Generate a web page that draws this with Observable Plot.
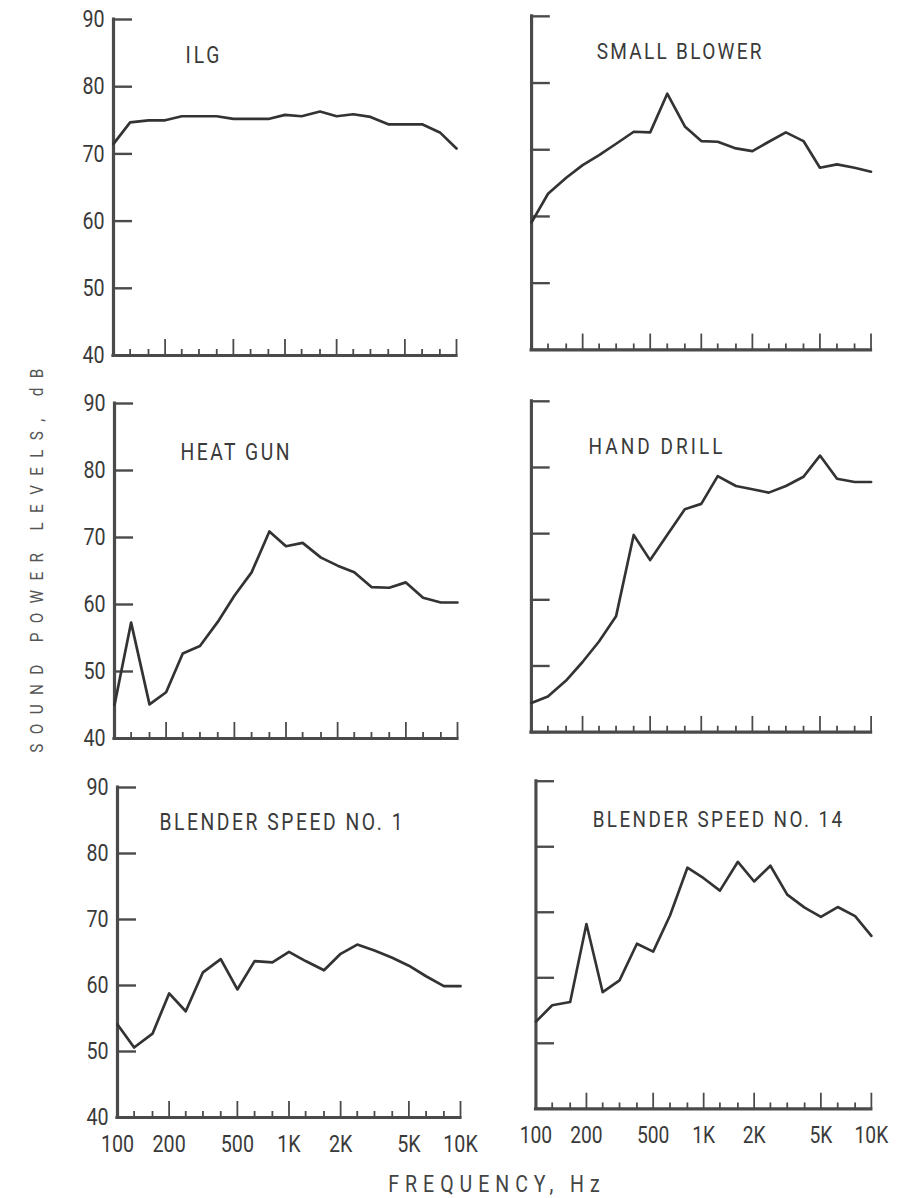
<!DOCTYPE html>
<html>
<head>
<meta charset="utf-8">
<script src="https://cdn.jsdelivr.net/npm/d3@7"></script>
<script src="https://cdn.jsdelivr.net/npm/@observablehq/plot@0.6"></script>
<style>
  html, body { margin: 0; padding: 0; background: #fff; }
  #chart { position: relative; width: 910px; height: 1198px; background: #fff; overflow: hidden; }
  .panel { position: absolute; }
  .lab { position: absolute; white-space: nowrap; color: #444; font-family: Roboto, 'Liberation Sans', sans-serif; }
</style>
</head>
<body>
<div id="chart"></div>
<script>
// ---- data ----
const freqs = [100,125,160,200,250,315,400,500,630,800,1000,1250,1600,2000,2500,3150,4000,5000,6300,8000,10000];
const ilg         = [71.5,74.7,75.0,75.0,75.6,75.6,75.6,75.2,75.2,75.2,75.8,75.6,76.3,75.6,75.9,75.5,74.4,74.4,74.4,73.2,70.8];
const smallBlower = [59.1,63.4,65.8,67.7,69.2,70.9,72.7,72.6,78.4,73.5,71.3,71.2,70.2,69.8,71.2,72.6,71.3,67.3,67.8,67.3,66.7];
const heatGun     = [45.0,57.3,45.1,46.9,52.7,53.8,57.4,61.3,64.8,70.9,68.7,69.2,67.0,65.8,64.8,62.6,62.5,63.3,61.0,60.3,60.3];
const handDrill   = [44.4,45.4,47.8,50.6,53.7,57.5,69.8,66.0,69.8,73.7,74.5,78.7,77.2,76.7,76.2,77.2,78.6,81.8,78.3,77.8,77.8];
const blender1    = [54.1,50.6,52.7,58.8,56.1,62.0,64.0,59.4,63.7,63.5,65.1,63.7,62.3,64.8,66.2,65.3,64.2,63.0,61.4,59.9,59.9];
const blender14   = [53.3,55.8,56.3,68.2,57.8,59.6,65.2,64.0,69.5,76.8,75.2,73.3,77.7,74.7,77.1,72.7,70.7,69.3,70.8,69.4,66.4];
const titles = ["ILG", "SMALL BLOWER", "HEAT GUN", "HAND DRILL", "BLENDER SPEED NO. 1", "BLENDER SPEED NO. 14"];
const yTicks = [40, 50, 60, 70, 80, 90];
const xMinorTicks = [125,160,250,315,400,630,800,1250,1600,2500,3150,4000,6300,8000];
const xMajorTicks = [200,500,1000,2000,5000,10000];
const xLabelValues = [100,200,500,1000,2000,5000,10000];
const xLabels = ["100","200","500","1K","2K","5K","10K"];
const yAxisLabel = "SOUND POWER LEVELS, dB";
const xAxisLabel = "FREQUENCY, Hz";
const series = [ilg, smallBlower, heatGun, handDrill, blender1, blender14];

// ---- layout (pixels) ----
const layout = [
  {L:113, R:456, T:19,  B:355,  col:0, row:0, tdx:72, tdy:36, tw:34},
  {L:532, R:876, T:16,  B:354,  col:1, row:0, tdx:66, tdy:36, tw:167},
  {L:114, R:457, T:403, B:738,  col:0, row:1, tdx:66, tdy:49, tw:109},
  {L:532, R:877, T:401, B:737,  col:1, row:1, tdx:58, tdy:46, tw:136},
  {L:117, R:460, T:787, B:1117, col:0, row:2, tdx:42, tdy:35, tw:243},
  {L:537, R:880, T:781, B:1116, col:1, row:2, tdx:58, tdy:39, tw:255}
];
const FONT = "Roboto, 'Liberation Sans', sans-serif";
const AX = "#4a4a4a", LN = "#333", TX = "#3a3a3a";
const SQ = 0.82;   // horizontal squeeze to imitate the condensed typeface
const TSQ = 0.84;
const mL = 70, mR = 40, mT = 12, mB = 50;
const chart = document.getElementById("chart");

function squeeze(node, s) {
  const t = node.getAttribute("transform");
  if (t) node.setAttribute("transform", t + ` scale(${s},1)`);
  else {
    const x = +node.getAttribute("x") || 0, y = +node.getAttribute("y") || 0;
    node.removeAttribute("x"); node.removeAttribute("y");
    node.setAttribute("transform", `translate(${x},${y}) scale(${s},1)`);
  }
}

layout.forEach((p, k) => {
  const fw = p.R - p.L, fh = p.B - p.T;
  const data = freqs.map((f, i) => ({f, v: series[k][i]}));
  const marks = [
    Plot.tickY(yTicks, {y: d => d, insetRight: fw - 19, stroke: AX, strokeWidth: 2.4}),
    Plot.tickX(xMinorTicks, {x: d => d, insetTop: fh - 6, stroke: AX, strokeWidth: 1.8}),
    Plot.tickX(xMajorTicks, {x: d => d, insetTop: fh - 16, stroke: AX, strokeWidth: 1.8}),
    Plot.ruleX([100], {x: d => d, y1: () => 40, y2: () => 90, stroke: AX, strokeWidth: 3.2, strokeLinecap: "square"}),
    Plot.ruleY([40], {y: d => d, x1: () => 100, x2: () => 10000, stroke: AX, strokeWidth: 3.2, strokeLinecap: "square"}),
    Plot.line(data, {x: "f", y: "v", stroke: LN, strokeWidth: 2.7, strokeLinejoin: "round", strokeLinecap: "round"}),
    Plot.text([titles[k]], {text: d => d, frameAnchor: "top-left", dx: p.tdx, dy: p.tdy, textAnchor: "start",
      lineAnchor: "middle", fontSize: 23, fill: TX})
  ];
  if (p.col === 0) {
    marks.push(Plot.text(yTicks, {x: () => 100, y: d => d, text: d => String(d), textAnchor: "end", dx: -9,
      fontSize: 24, fill: TX}));
  }
  if (p.row === 2) {
    marks.push(Plot.text(xLabelValues, {x: d => d, y: () => 40, text: (d, i) => xLabels[i], dy: 27,
      fontSize: 24, fill: TX}));
  }
  const svg = Plot.plot({
    width: mL + fw + mR,
    height: mT + fh + mB,
    marginLeft: mL, marginRight: mR, marginTop: mT, marginBottom: mB,
    x: {type: "log", domain: [100, 10000], axis: null},
    y: {domain: [40, 90], axis: null},
    style: {fontFamily: FONT, background: "transparent", overflow: "visible"},
    marks
  });
  d3.select(svg).selectAll("text").each(function () {
    if (this.textContent === titles[k]) {
      squeeze(this, TSQ);
      this.setAttribute("textLength", p.tw / TSQ);
      this.setAttribute("lengthAdjust", "spacing");
    } else {
      squeeze(this, SQ);
    }
  });
  const wrap = document.createElement("div");
  wrap.className = "panel";
  wrap.style.left = (p.L - mL) + "px";
  wrap.style.top = (p.T - mT) + "px";
  wrap.appendChild(svg);
  chart.appendChild(wrap);
});

// axis titles
const yl = document.createElement("div");
yl.className = "lab";
yl.textContent = yAxisLabel;
yl.style.cssText += "left:36px;top:556px;font-size:18px;letter-spacing:11px;color:#555;transform:translate(-50%,-50%) rotate(-90deg) scaleX(0.85);";
chart.appendChild(yl);

const xl = document.createElement("div");
xl.className = "lab";
xl.textContent = xAxisLabel;
xl.style.cssText += "left:497px;top:1184px;font-size:23px;letter-spacing:7px;color:#444;transform:translate(-50%,-50%) scaleX(0.85);";
chart.appendChild(xl);
</script>
</body>
</html>
